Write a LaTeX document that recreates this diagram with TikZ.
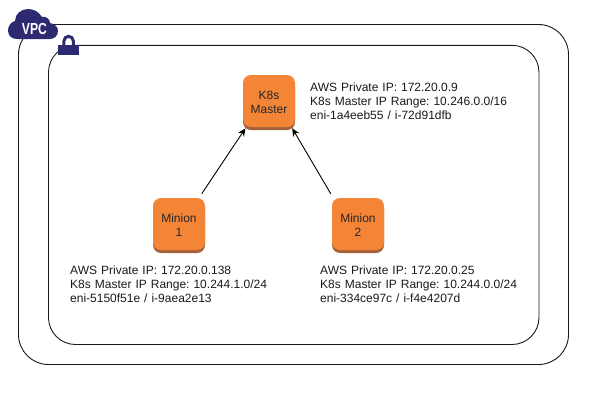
\documentclass[tikz,border=0pt]{standalone}
\usepackage{fontspec}
\setmainfont{Liberation Sans}
\usetikzlibrary{arrows.meta, positioning, shadows}
\definecolor{awsorange}{HTML}{F58536}
\definecolor{awsbase}{HTML}{A5623A}
\definecolor{vpcblue}{HTML}{2E2A72}
\tikzstyle{instance} = [rectangle, rounded corners=8pt, minimum width=52pt, minimum height=52pt, inner sep=0pt, text width=50pt, align=center, execute at begin node=\rule{0pt}{11.6pt}, font=\frenchspacing\fontsize{12}{14}\selectfont, text=black!85, fill=awsorange, general shadow={shadow yshift=-3pt, fill=awsbase}]
\tikzstyle{info} = [text width=220pt, inner sep=0pt, align=left, font=\frenchspacing\fontsize{12}{14}\selectfont, text=black!90]
\tikzstyle{boundary} = [draw=black!90, line width=0.9pt]
\tikzstyle{arrow} = [line width=0.9pt,-{Stealth[length=8pt,width=7pt]}]

\begin{document}
\begin{tikzpicture}[x=1pt, y=-1pt]
\useasboundingbox (0,0) rectangle (599,400);

% boundaries
\draw [boundary, rounded corners=30pt] (18.5,24.5) rectangle (568.5,364.5);
\draw [boundary, rounded corners=27pt] (48.5,45.3) rectangle (539,344.5);

% cloud and lock
\fill [vpcblue] (17,39) .. controls (11,39) and (8,35) .. (8,30.5) .. controls (8,26) and (11,22) .. (15,21) .. controls (15,14) and (21,9) .. (28,9) .. controls (34,9) and (39,12) .. (42,17) .. controls (46,16) and (50,19) .. (50,23) .. controls (55,24) and (58,27) .. (58,31) .. controls (58,36) and (54,39) .. (50,39) -- cycle;
\node (vpc) at (34.5,29) [text=white, inner sep=0pt, xscale=0.76, font=\fontsize{16}{18}\bfseries\selectfont] {VPC};
\fill [vpcblue] (58.3,44.5) rectangle (79,55);
\draw [vpcblue, line width=3pt] (63.9,46) -- (63.9,41) arc (180:360:4.7) -- (73.3,46);

\node (master) at (269,101) [instance] {K8s\\Master};
\node (minion1) at (179,224) [instance] {Minion\\1};
\node (minion2) at (358,224) [instance] {Minion\\2};

\node (master_info) at (310,101.5) [info, anchor=west] {AWS Private IP: 172.20.0.9\\K8s Master IP Range: 10.246.0.0/16\\eni-1a4eeb55 / i-72d91dfb};
\node (minion1_info) at (70,284) [info, anchor=west] {AWS Private IP: 172.20.0.138\\K8s Master IP Range: 10.244.1.0/24\\eni-5150f51e / i-9aea2e13};
\node (minion2_info) at (320,284) [info, anchor=west] {AWS Private IP: 172.20.0.25\\K8s Master IP Range: 10.244.0.0/24\\eni-334ce97c / i-f4e4207d};

\draw [arrow] ([xshift=-3.5pt,yshift=4pt]minion1.north east) -- ([xshift=2.7pt,yshift=-1pt]master.south west);
\draw [arrow] ([xshift=-1pt,yshift=4pt]minion2.north west) -- ([xshift=-3pt,yshift=-1pt]master.south east);

\end{tikzpicture}
\end{document}
